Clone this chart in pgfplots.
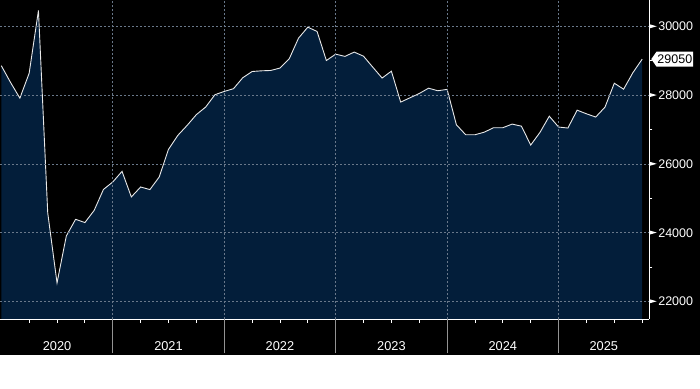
\documentclass[border=0pt]{standalone}
\usepackage{fontspec}
\setmainfont{Liberation Sans}
\usepackage{pgfplots}
\usepackage{pgfplotstable}
\pgfplotsset{compat=1.18}
\usetikzlibrary{shapes.symbols}
\definecolor{navy}{RGB}{3,30,58}
\definecolor{gridc}{RGB}{105,120,138}
\definecolor{linec}{RGB}{232,232,232}
\newcommand\tri{\tikz[baseline=-0.358em,x=1pt,y=1pt]\fill[white](0,-2)--(7,0)--(0,2)--cycle;\hspace{1.6pt}}
\pgfplotstableread{
m v
0 28860
1 28370
2 27915
3 28640
4 30465
5 24575
6 22540
7 23905
8 24390
9 24295
10 24650
11 25260
12 25475
13 25785
14 25040
15 25330
16 25255
17 25620
18 26425
19 26830
20 27120
21 27435
22 27655
23 28015
24 28110
25 28190
26 28510
27 28690
28 28710
29 28720
30 28790
31 29060
32 29660
33 29980
34 29855
35 29010
36 29195
37 29130
38 29255
39 29135
40 28815
41 28500
42 28700
43 27800
44 27925
45 28050
46 28205
47 28130
48 28170
49 27140
50 26850
51 26850
52 26925
53 27055
54 27055
55 27160
56 27100
57 26550
58 26920
59 27390
60 27075
61 27045
62 27565
63 27460
64 27365
65 27655
66 28350
67 28175
68 28655
69 29050
}\datatable
\begin{document}
\fontsize{12.5pt}{15pt}\selectfont
\begin{tikzpicture}
\begin{axis}[scale only axis,
  width=649pt, height=319pt,
  xmin=-0.086, xmax=69.74, ymin=21482, ymax=30756,
  scaled y ticks=false, scaled x ticks=false,
  axis x line=bottom, axis y line=right,
  axis line style={white, line width=1pt, -},
  axis on top, clip=false,
  tick align=outside,
  major tick length=0pt, minor tick length=3.3pt,
  tick style={white, line width=0.8pt},
  xtick={6,18,30,42,54,64.87},
  xticklabels={2020,2021,2022,2023,2024,2025},
  minor xtick={3,6,9,15,18,21,27,30,33,39,42,45,51,54,57,63,66,69},
  extra x ticks={12,24,36,48,60},
  extra x tick labels={},
  extra x tick style={grid=major, major tick length=34pt, tick style={gray!85, line width=1pt}},
  xticklabel style={text=white, anchor=base, yshift=-31pt, font=\fontsize{12.8pt}{15pt}\selectfont},
  ytick={22000,24000,26000,28000,30000},
  yticklabels={\tri 22000,\tri 24000,\tri 26000,\tri 28000,\tri 30000},
  minor ytick={23000,25000,27000,29000},
  yticklabel style={text=white, anchor=west, inner sep=0pt, xshift=0.5pt},
  ymajorgrids,
  major grid style={gridc, dash pattern=on 2pt off 2pt, line width=0.6pt},
]
\fill[black] ([yshift=-36pt]rel axis cs:0,0) rectangle ([xshift=51pt]rel axis cs:1,1);
\addplot[fill=navy, draw=none] table[x=m,y=v] {\datatable} \closedcycle;
\addplot[linec, line width=0.9pt] table[x=m,y=v] {\datatable};
\node[signal, signal to=west, signal pointer angle=110, fill=white, text=black,
  inner xsep=1pt, inner ysep=3pt, anchor=west] at ([xshift=2pt]axis cs:69.74,29050) {29050};
\end{axis}
\end{tikzpicture}
\end{document}
